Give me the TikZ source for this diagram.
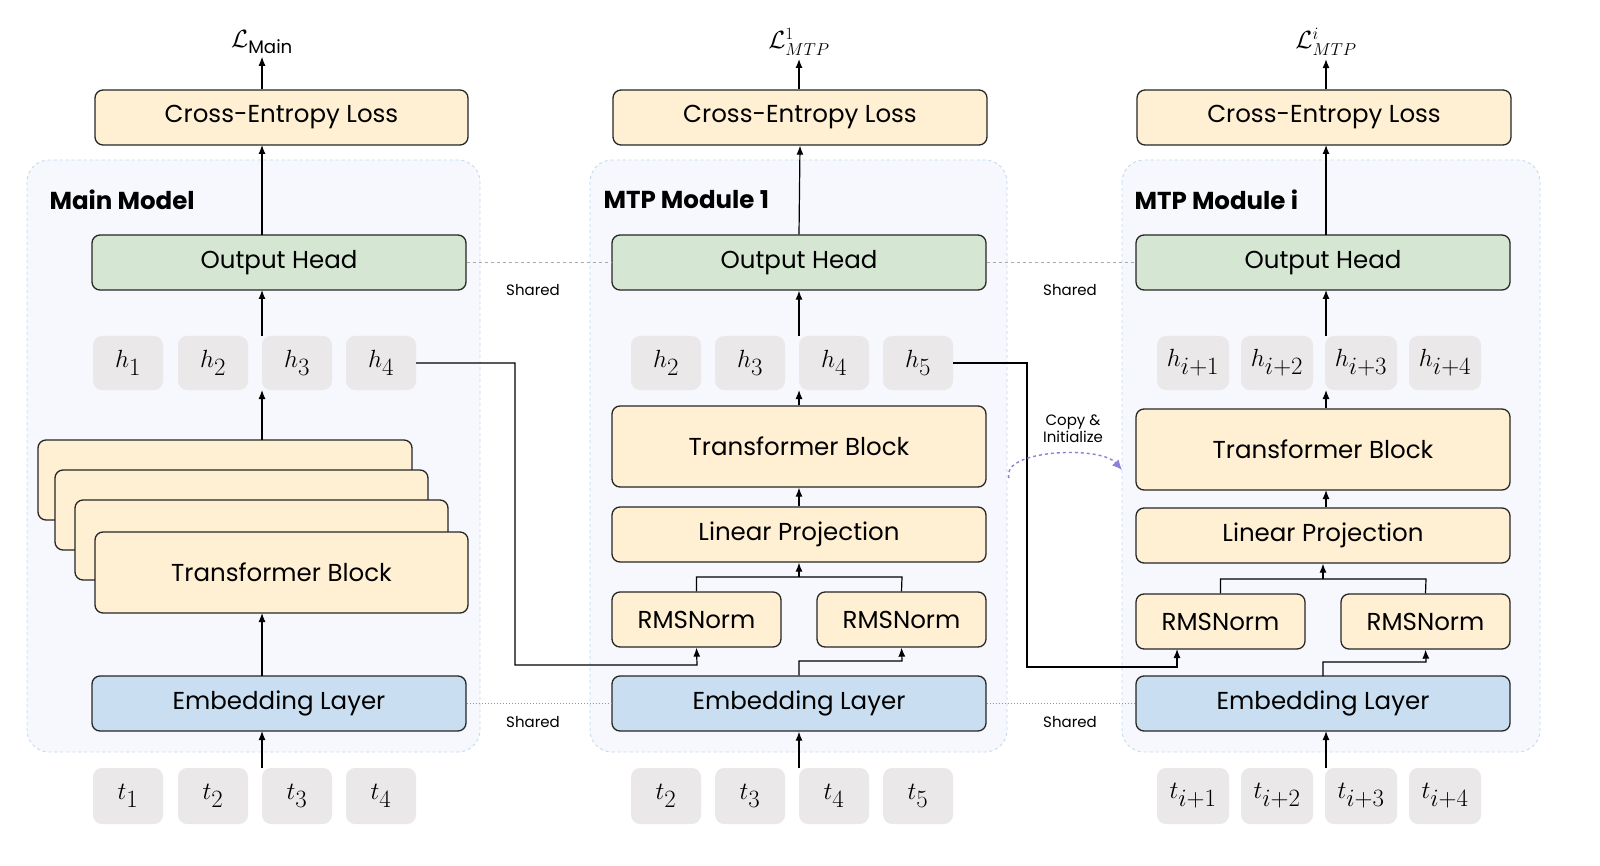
\documentclass[tikz,border=0pt]{standalone}
\usepackage{fontspec}
\setmainfont{Poppins}
\usepackage{amsmath}
\usetikzlibrary{arrows.meta}
\definecolor{yel}{HTML}{FFF0D4}
\definecolor{grn}{HTML}{D5E6D3}
\definecolor{blu}{HTML}{C9DFF1}
\definecolor{gry}{HTML}{EAE8E8}
\definecolor{cont}{HTML}{F6F8FD}
\definecolor{contb}{HTML}{C2DAF0}
\definecolor{purp}{HTML}{8F7FD6}
\tikzset{
 box/.style={draw=black!85,line width=1.3pt,rounded corners=8pt,font=\fontsize{24.5}{26}\selectfont},
 yb/.style={box,fill=yel},
 gb/.style={box,fill=grn},
 bb/.style={box,fill=blu},
 tok/.style={fill=gry,rounded corners=9pt,font=\fontsize{33}{35}\selectfont},
 cont/.style={fill=cont,draw=contb,dashed,line width=0.9pt,rounded corners=22pt},
 ar/.style={-{Latex[length=9pt,width=7pt]},line width=1.2pt},
 ln/.style={line width=1.2pt},
 ttl/.style={font=\fontsize{24.5}{26}\selectfont\bfseries,anchor=west},
 sh/.style={font=\fontsize{15}{17}\selectfont},
}
\begin{document}
\begin{tikzpicture}[x=1pt,y=-1pt]
\useasboundingbox (0,0) rectangle (1600,866);
% containers
\path[cont] (27,160) rectangle (480,752);
\path[cont] (590,160) rectangle (1007,752);
\path[cont] (1122,160) rectangle (1540,752);
\node[ttl] (t0) at (46,200) {Main Model};
\node[ttl] (t1) at (600,200) {MTP Module 1};
\node[ttl] (t2) at (1131,200) {MTP Module i};
% Main
\node[yb,minimum width=373pt,minimum height=55pt] (ce0) at (281.5,117.5) {Cross-Entropy Loss};
\node (L0) at (262,42) {\fontsize{26}{28}\selectfont$\mathcal{L}_{\text{Main}}$};
\node[gb,minimum width=374pt,minimum height=55pt] (oh0) at (279,262.5) {Output Head};
\foreach \i/\x in {1/128,2/213,3/297,4/381}{
 \node[tok,minimum width=70pt,minimum height=54pt] (h0\i) at (\x,363) {$h_{\i}$};
 \node[tok,minimum width=70pt,minimum height=56pt] (tk0\i) at (\x,796) {$t_{\i}$};}
\node[yb,minimum width=374pt,minimum height=80pt] (tbA) at (225,480) {};
\node[yb,minimum width=373pt,minimum height=80pt] (tbB) at (241.5,510) {};
\node[yb,minimum width=373pt,minimum height=80pt] (tbC) at (261.5,540) {};
\node[yb,minimum width=373pt,minimum height=81pt] (tb0) at (281.5,572.5) {Transformer Block};
\node[bb,minimum width=374pt,minimum height=55pt] (em0) at (279,703.5) {Embedding Layer};
\draw[ar] (ce0.north -| L0) -- (L0.south);
\draw[ar] (262,235) -- (262,145);
\draw[ar] (262,336) -- (262,290);
\draw[ar] (262,440) -- (262,390);
\draw[ar] (262,676) -- (262,613);
\draw[ar] (262,768) -- (262,731);
% MTP1
\node[yb,minimum width=374pt,minimum height=55pt] (ce1) at (800,117.5) {Cross-Entropy Loss};
\node (L1) at (799,42) {\fontsize{26}{28}\selectfont$\mathcal{L}^{1}_{MTP}$};
\node[gb,minimum width=374pt,minimum height=55pt] (oh1) at (799,262.5) {Output Head};
\foreach \i/\x in {2/666,3/750,4/834,5/918}{
 \node[tok,minimum width=70pt,minimum height=54pt] (h1\i) at (\x,363) {$h_{\i}$};
 \node[tok,minimum width=70pt,minimum height=56pt] (tk1\i) at (\x,796) {$t_{\i}$};}
\node[yb,minimum width=374pt,minimum height=81pt] (tb1) at (799,446.5) {Transformer Block};
\node[yb,minimum width=374pt,minimum height=55pt] (lp1) at (799,534.5) {Linear Projection};
\node[yb,minimum width=169pt,minimum height=55pt] (rA1) at (696.5,619.5) {RMSNorm};
\node[yb,minimum width=169pt,minimum height=55pt] (rB1) at (901.5,619.5) {RMSNorm};
\node[bb,minimum width=374pt,minimum height=55pt] (em1) at (799,703.5) {Embedding Layer};
\draw[ar] (ce1.north -| L1) -- (L1.south);
\draw[ar] (oh1.north) -- (ce1.south);
\draw[ar] (799,336) -- (oh1.south);
\draw[ar] (tb1.north) -- (799,390);
\draw[ar] (lp1.north) -- (tb1.south);
\draw[ln] (rA1.north) |- (902,577) -- (rB1.north);
\draw[ar] (799,577) -- (lp1.south);
\draw[ar] (em1.north) |- (902,661) -- (rB1.south);
\draw[ar] (799,768) -- (em1.south);
% MTPi
\node[yb,minimum width=374pt,minimum height=55pt] (ce2) at (1324,117.5) {Cross-Entropy Loss};
\node (L2) at (1326,42) {\fontsize{26}{28}\selectfont$\mathcal{L}^{i}_{MTP}$};
\node[gb,minimum width=374pt,minimum height=55pt] (oh2) at (1323,262.5) {Output Head};
\foreach \k/\x in {1/1193,2/1277,3/1361,4/1445}{
 \node[tok,minimum width=72pt,minimum height=54pt] (h2\k) at (\x,363) {$h_{i+\k}$};
 \node[tok,minimum width=72pt,minimum height=56pt] (tk2\k) at (\x,796) {$t_{i+\k}$};}
\node[yb,minimum width=374pt,minimum height=81pt] (tb2) at (1323,449.5) {Transformer Block};
\node[yb,minimum width=374pt,minimum height=55pt] (lp2) at (1323,535.5) {Linear Projection};
\node[yb,minimum width=169pt,minimum height=55pt] (rA2) at (1220.5,621.5) {RMSNorm};
\node[yb,minimum width=169pt,minimum height=55pt] (rB2) at (1425.5,621.5) {RMSNorm};
\node[bb,minimum width=374pt,minimum height=55pt] (em2) at (1323,703.5) {Embedding Layer};
\draw[ar] (ce2.north -| L2) -- (L2.south);
\draw[ar] (1326,235) -- (1326,145);
\draw[ar] (1326,336) -- (1326,290);
\draw[ar] (tb2.north -| 1326,0) -- (1326,390);
\draw[ar] (lp2.north -| 1326,0) -- (1326,490);
\draw[ln] (rA2.north) |- (1426,579) -- (rB2.north);
\draw[ar] (1323,579) -- (lp2.south);
\draw[ar] (1323,676) |- (1426,662) -- (rB2.south);
\draw[ar] (1326,768) -- (1326,731);
% cross connectors
\coordinate (c1) at (515,363);
\draw[ar] (h04.east) -- (c1) |- (697,665) -- (rA1.south);
\draw[ar] (h15.east) -- (1027,363) |- (1177,667) -- (1177,649);
% shared
\draw[dashed,draw=grn!60!black!70,line width=0.9pt] (oh0.east) -- (oh1.west);
\draw[dashed,draw=grn!60!black!70,line width=0.9pt] (oh1.east) -- (oh2.west);
\draw[dotted,draw=contb!70!black,line width=1pt] (em0.east) -- (em1.west);
\draw[dotted,draw=contb!70!black,line width=1pt] (em1.east) -- (em2.west);
\node[sh] (s1) at (533,290) {Shared};
\node[sh] (s2) at (1070,290) {Shared};
\node[sh] (s3) at (533,722) {Shared};
\node[sh] (s4) at (1070,722) {Shared};
\node[sh,align=center] (ci) at (1073,429) {Copy \&\\ Initialize};
\draw[dashed,draw=purp,line width=1.4pt,-{Latex[length=10pt,width=9pt]}] (1009,478) .. controls (1000,450) and (1100,445) .. (1122,470);
\end{tikzpicture}
\end{document}
